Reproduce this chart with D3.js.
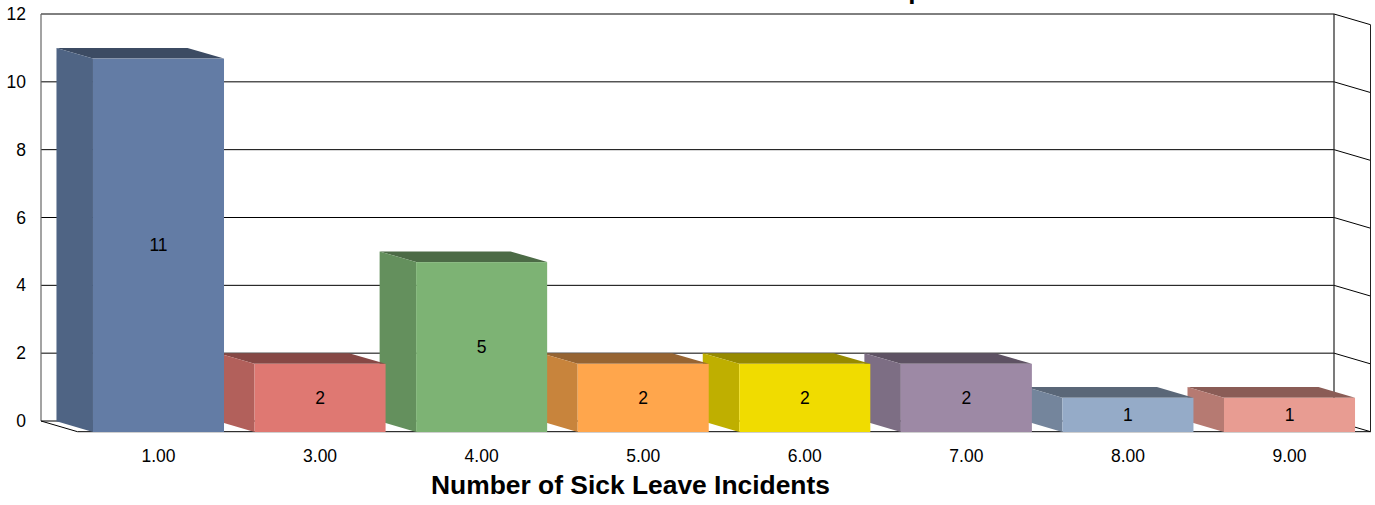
<!DOCTYPE html>
<html><head><meta charset="utf-8">
<script src="https://cdn.jsdelivr.net/npm/d3@7"></script>
<style>html,body{margin:0;padding:0;background:#fff;overflow:hidden}svg{display:block}text{font-family:"Liberation Sans",Arial,sans-serif;fill:#000}</style>
</head><body><svg id="c" width="1375" height="505"></svg>
<script>
const categories=["1.00","3.00","4.00","5.00","6.00","7.00","8.00","9.00"];
const values=[11,2,5,2,2,2,1,1];
const frontColors=["#637ca5","#df7872","#7db374","#ffa64c","#f0dc00","#9d89a5","#95abc8","#e89c92"];
const sideColors=["#4f6484","#b2605b","#64905d","#c8843c","#bfaf00","#7d6e84","#74859c","#b67a72"];
const topColors=["#3c4b63","#864845","#4c6b46","#966432","#968a00","#5e5263","#5a6778","#8a5c56"];
const yTicks=[0,2,4,6,8,10,12];
const axisTitle="Number of Sick Leave Incidents";
const titleFragment="p";

const svg=d3.select("#c");
const dx=36.5,dy=10.7;
const x=d3.scaleBand().domain(categories).range([77.7,1370.3]).paddingInner(0.189).paddingOuter(0.0945);
const y=d3.scaleLinear().domain([0,12]).range([421,14]);
const line=d3.line();

// the chart title is cut off by the top edge: only a descender shows
svg.append("text").attr("x",908.2).attr("y",-1.5).attr("font-size",26).attr("font-weight","bold").text(titleFragment);

// back wall gridlines and side wall
const left=41,right=1334;
yTicks.forEach(t=>{
  svg.append("line").attr("x1",left).attr("x2",right).attr("y1",y(t)).attr("y2",y(t))
    .attr("stroke","#000").attr("stroke-width",1);
  svg.append("line").attr("x1",right).attr("x2",right+dx).attr("y1",y(t)).attr("y2",y(t)+dy)
    .attr("stroke","#000").attr("stroke-width",1);
});
svg.append("line").attr("x1",left).attr("x2",left).attr("y1",y(12)).attr("y2",y(0)).attr("stroke","#666").attr("stroke-width",1.2);
svg.append("line").attr("x1",right).attr("x2",right).attr("y1",y(12)).attr("y2",y(0)).attr("stroke","#222").attr("stroke-width",1.2);
svg.append("line").attr("x1",right+dx).attr("x2",right+dx).attr("y1",y(12)+dy).attr("y2",y(0)+dy).attr("stroke","#222").attr("stroke-width",1);
// floor
svg.append("path").attr("fill","none").attr("stroke","#000").attr("stroke-width",1)
  .attr("d",line([[left,y(0)],[left+dx,y(0)+dy],[right+dx,y(0)+dy]]));

// y tick labels
yTicks.forEach(t=>{
  svg.append("text").attr("x",26).attr("y",y(t)+6).attr("text-anchor","end").attr("font-size",17.5).text(t);
});

// bars, right to left so left bars sit in front
const idx=d3.range(categories.length).reverse();
idx.forEach(i=>{
  const xf=x(categories[i]),w=x.bandwidth();
  const yb=y(0)+dy+0.3,yt=y(values[i])+dy;
  svg.append("path").attr("fill",topColors[i]).attr("d",line([[xf,yt],[xf-dx,yt-dy],[xf+w-dx,yt-dy],[xf+w,yt]])+"Z");
  svg.append("path").attr("fill",sideColors[i]).attr("d",line([[xf,yt],[xf-dx,yt-dy],[xf-dx,yb-dy],[xf,yb]])+"Z");
  svg.append("rect").attr("x",xf).attr("y",yt).attr("width",w).attr("height",yb-yt).attr("fill",frontColors[i]);
});
idx.forEach(i=>{
  const xf=x(categories[i]),w=x.bandwidth();
  const yb=y(0)+dy,yt=y(values[i])+dy;
  svg.append("text").attr("x",xf+w/2).attr("y",(yt+yb)/2+6).attr("text-anchor","middle").attr("font-size",17.5).text(values[i]);
});
// x labels
categories.forEach(c=>{
  svg.append("text").attr("x",x(c)+x.bandwidth()/2).attr("y",461.5).attr("text-anchor","middle").attr("font-size",17.5).text(c);
});
svg.append("text").attr("x",630.5).attr("y",494).attr("text-anchor","middle").attr("font-size",26.4).attr("font-weight","bold").text(axisTitle);
</script></body></html>
